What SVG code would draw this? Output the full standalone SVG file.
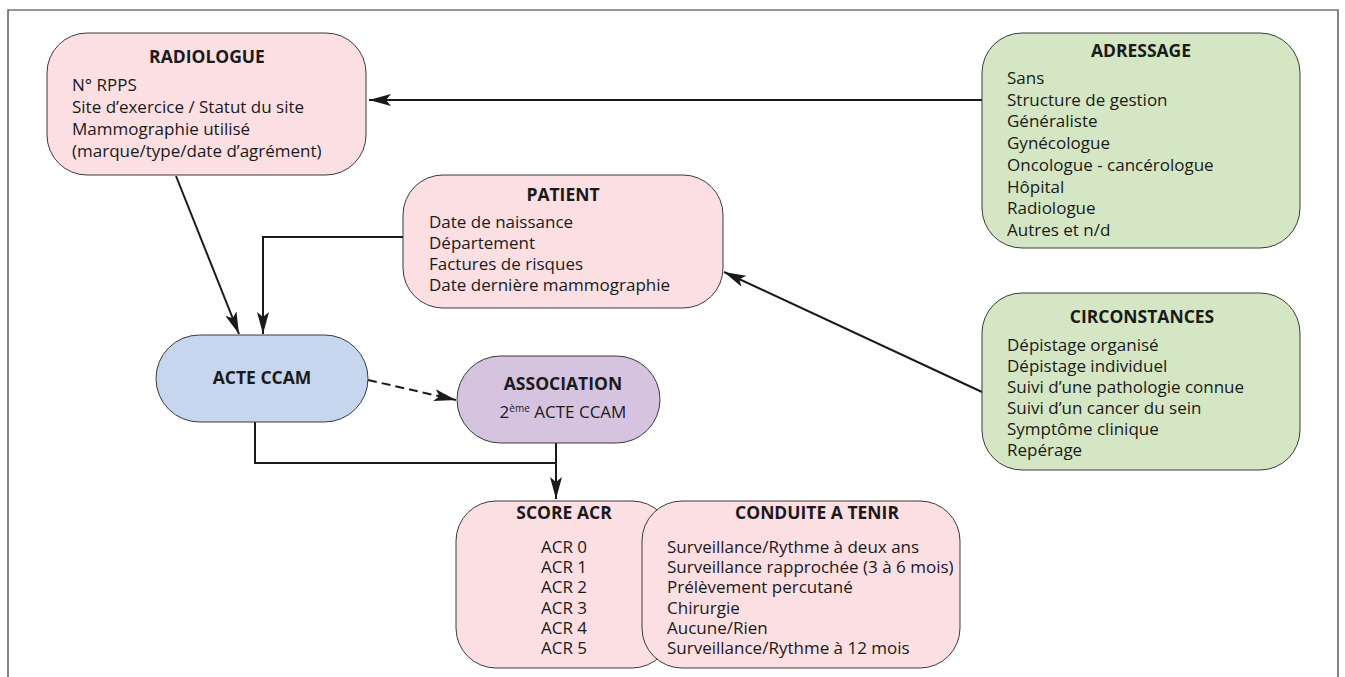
<svg xmlns="http://www.w3.org/2000/svg" width="1345" height="677" viewBox="0 0 1345 677">
<defs>
<style>
.box{stroke:#3a3a3a;stroke-width:1}
.pink{fill:#fbdfe3}
.green{fill:#d4e6c3}
.blue{fill:#c5d6ee}
.purple{fill:#d6c3e0}
text{font-family:"Open Sans","Liberation Sans",sans-serif;fill:#1a1a1a;font-size:17px}
.t{font-weight:bold;text-anchor:middle;font-size:17.5px}
.c{text-anchor:middle}
.ln{fill:none;stroke:#1a1a1a;stroke-width:2}
</style>
<marker id="ah" viewBox="0 0 22 12" refX="22" refY="6" markerWidth="22" markerHeight="12" markerUnits="userSpaceOnUse" orient="auto">
<path d="M0,0 L22,6 L0,12 L5,6 Z" fill="#1a1a1a"/>
</marker>
</defs>
<rect x="0" y="0" width="1345" height="677" fill="#fff"/>
<path d="M8,677 V10 H1338 V677" fill="none" stroke="#333" stroke-width="1.2"/>

<g id="connectors">
<line class="ln" x1="982" y1="100" x2="369" y2="100" marker-end="url(#ah)"/>
<line class="ln" x1="176" y1="176" x2="239" y2="334" marker-end="url(#ah)"/>
<polyline class="ln" points="403,237 263,237 263,334" marker-end="url(#ah)"/>
<line class="ln" x1="982" y1="392" x2="724" y2="272" marker-end="url(#ah)"/>
<line class="ln" x1="368" y1="380" x2="456" y2="400" stroke-dasharray="9,5" marker-end="url(#ah)"/>
<polyline class="ln" points="255,422 255,463 556,463"/>
<polyline class="ln" points="556,443 556,499" marker-end="url(#ah)"/>
</g>

<g id="radiologue">
<rect class="box pink" x="47" y="33" width="319" height="142" rx="40" ry="40"/>
<text class="t" x="207" y="63">RADIOLOGUE</text>
<text x="72" y="91">N° RPPS</text>
<text x="72" y="113">Site d’exercice / Statut du site</text>
<text x="72" y="135">Mammographie utilisé</text>
<text x="72" y="157">(marque/type/date d’agrément)</text>
</g>

<g id="adressage">
<rect class="box green" x="982" y="33" width="318" height="215" rx="40" ry="40"/>
<text class="t" x="1141" y="57">ADRESSAGE</text>
<text x="1007" y="84">Sans</text>
<text x="1007" y="106">Structure de gestion</text>
<text x="1007" y="127">Généraliste</text>
<text x="1007" y="149">Gynécologue</text>
<text x="1007" y="171">Oncologue - cancérologue</text>
<text x="1007" y="193">Hôpital</text>
<text x="1007" y="214">Radiologue</text>
<text x="1007" y="236">Autres et n/d</text>
</g>

<g id="patient">
<rect class="box pink" x="403" y="175" width="320" height="133" rx="40" ry="40"/>
<text class="t" x="563" y="201">PATIENT</text>
<text x="429" y="228">Date de naissance</text>
<text x="429" y="249">Département</text>
<text x="429" y="270">Factures de risques</text>
<text x="429" y="291">Date dernière mammographie</text>
</g>

<g id="circonstances">
<rect class="box green" x="982" y="293" width="318" height="177" rx="40" ry="40"/>
<text class="t" x="1142" y="323">CIRCONSTANCES</text>
<text x="1007" y="351">Dépistage organisé</text>
<text x="1007" y="372">Dépistage individuel</text>
<text x="1007" y="393">Suivi d’une pathologie connue</text>
<text x="1007" y="414">Suivi d’un cancer du sein</text>
<text x="1007" y="435">Symptôme clinique</text>
<text x="1007" y="456">Repérage</text>
</g>

<g id="acte-ccam">
<rect class="box blue" x="156" y="335" width="212" height="87" rx="43.5" ry="43.5"/>
<text class="t" x="262" y="384">ACTE CCAM</text>
</g>

<g id="association">
<rect class="box purple" x="457" y="356" width="203" height="87" rx="43.5" ry="43.5"/>
<text class="t" x="563" y="390">ASSOCIATION</text>
<text class="c" x="563" y="418">2<tspan font-size="10" dy="-6">ème</tspan><tspan dy="6"> ACTE CCAM</tspan></text>
</g>

<g id="score-acr">
<rect class="box pink" x="456" y="501" width="216" height="167" rx="40" ry="40"/>
<text class="t" x="564" y="519">SCORE ACR</text>
<text class="c" x="564" y="553">ACR 0</text>
<text class="c" x="564" y="573">ACR 1</text>
<text class="c" x="564" y="593">ACR 2</text>
<text class="c" x="564" y="614">ACR 3</text>
<text class="c" x="564" y="634">ACR 4</text>
<text class="c" x="564" y="654">ACR 5</text>
</g>

<g id="conduite">
<rect class="box pink" x="642" y="501" width="318" height="167" rx="40" ry="40"/>
<text class="t" x="817" y="519">CONDUITE A TENIR</text>
<text x="667" y="553">Surveillance/Rythme à deux ans</text>
<text x="667" y="573">Surveillance rapprochée (3 à 6 mois)</text>
<text x="667" y="593">Prélèvement percutané</text>
<text x="667" y="614">Chirurgie</text>
<text x="667" y="634">Aucune/Rien</text>
<text x="667" y="654">Surveillance/Rythme à 12 mois</text>
</g>
</svg>
